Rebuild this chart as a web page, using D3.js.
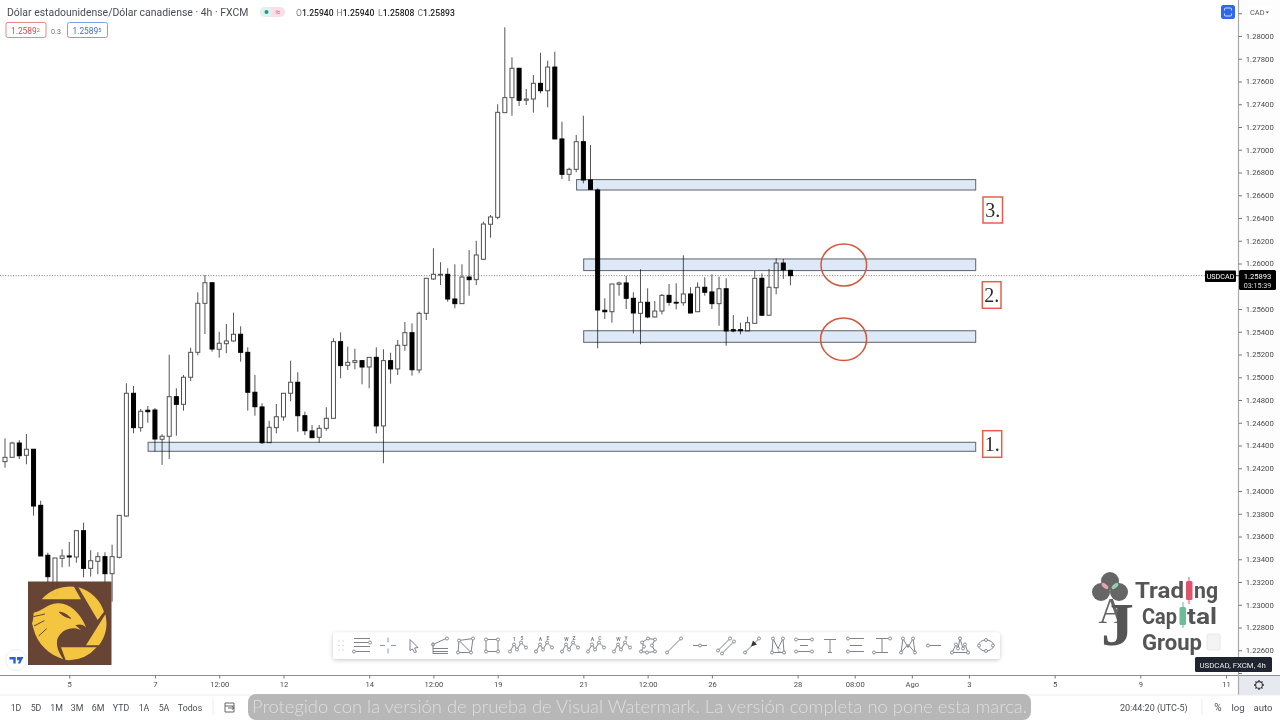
<!DOCTYPE html>
<html><head><meta charset="utf-8">
<script src="https://cdn.jsdelivr.net/npm/d3@7/dist/d3.min.js"></script>
<style>html,body{margin:0;padding:0;background:#fff;overflow:hidden}svg{display:block}text{font-family:Roboto,sans-serif}</style>
</head><body><svg id="c" width="1280" height="720" viewBox="0 0 1280 720"></svg>
<script>
const opens=[1.24258,1.24296,1.24422,1.24314,1.24367,1.23874,1.23435,1.23086,1.23408,1.23429,
1.23420,1.23651,1.23320,1.23382,1.23423,1.23273,1.23417,1.23780,1.24859,1.24557,
1.24710,1.24712,1.24455,1.24481,1.24829,1.24762,1.25000,1.25219,1.25650,1.25831,
1.25246,1.25295,1.25319,1.25378,1.25219,1.24868,1.24739,1.24425,1.24557,1.24651,
1.24859,1.24956,1.24662,1.24528,1.24472,1.24551,1.24639,1.25313,1.25105,1.25131,
1.25146,1.25090,1.25175,1.24572,1.25146,1.25073,1.25281,1.25392,1.25064,1.25562,
1.25864,1.25899,1.25905,1.25688,1.25647,1.25881,1.25858,1.26037,1.26345,1.26406,
1.27326,1.27458,1.27716,1.27435,1.27446,1.27584,1.27519,1.27727,1.27095,1.26784,
1.26828,1.27071,1.26734,1.26646,1.25589,1.25576,1.25817,1.25829,1.25694,1.25562,
1.25659,1.25530,1.25582,1.25720,1.25659,1.25655,1.25732,1.25576,1.25791,1.25750,
1.25647,1.25778,1.25418,1.25418,1.25407,1.25474,1.25870,1.25545,1.25787,1.26004,1.25940];
const highs=[1.24463,1.24433,1.24448,1.24501,1.24369,1.23915,1.23458,1.23411,1.23487,1.23552,
1.23657,1.23721,1.23479,1.23461,1.23461,1.23528,1.23786,1.24947,1.24923,1.24721,
1.24747,1.24730,1.24499,1.25198,1.24903,1.25020,1.25260,1.25747,1.25899,1.25831,
1.25400,1.25468,1.25568,1.25448,1.25263,1.25020,1.24771,1.24618,1.24765,1.24859,
1.25146,1.25044,1.24697,1.24580,1.24580,1.24736,1.25342,1.25395,1.25269,1.25251,
1.25146,1.25175,1.25263,1.25246,1.25216,1.25328,1.25486,1.25474,1.25576,1.25873,
1.26134,1.26011,1.25958,1.25993,1.25993,1.26119,1.26200,1.26368,1.26426,1.27400,
1.28076,1.27813,1.27721,1.27534,1.27657,1.27853,1.27783,1.27862,1.27247,1.26842,
1.27130,1.27299,1.27042,1.26661,1.25694,1.25820,1.25840,1.25890,1.25747,1.25949,
1.25782,1.25670,1.25732,1.25820,1.25826,1.26072,1.25791,1.25835,1.25879,1.25905,
1.25884,1.25870,1.25547,1.25480,1.25532,1.25934,1.25914,1.25952,1.26046,1.26040,1.25940];
const lows=[1.24205,1.24296,1.24281,1.24235,1.23783,1.23429,1.23191,1.23086,1.23329,1.23335,
1.23370,1.23241,1.23247,1.23268,1.23191,1.23027,1.23408,1.23774,1.24507,1.24521,
1.24600,1.24346,1.24229,1.24281,1.24486,1.24706,1.24967,1.25193,1.25380,1.25225,
1.25172,1.25211,1.25313,1.25137,1.24706,1.24662,1.24413,1.24425,1.24507,1.24618,
1.24789,1.24521,1.24492,1.24463,1.24425,1.24530,1.24639,1.24991,1.25064,1.25070,
1.24938,1.24903,1.24507,1.24244,1.24943,1.25020,1.25233,1.25014,1.25035,1.25503,
1.25855,1.25811,1.25664,1.25606,1.25647,1.25717,1.25811,1.26031,1.26227,1.26389,
1.27326,1.27299,1.27385,1.27393,1.27326,1.27496,1.27373,1.27095,1.26743,1.26725,
1.26802,1.26705,1.26646,1.25255,1.25512,1.25480,1.25717,1.25600,1.25386,1.25290,
1.25518,1.25524,1.25553,1.25629,1.25597,1.25629,1.25562,1.25576,1.25717,1.25600,
1.25453,1.25277,1.25395,1.25378,1.25407,1.25474,1.25541,1.25541,1.25729,1.25864,1.25808];
const closes=[1.24296,1.24422,1.24310,1.24367,1.23868,1.23429,1.23247,1.23411,1.23429,1.23420,
1.23651,1.23320,1.23387,1.23423,1.23273,1.23423,1.23786,1.24859,1.24557,1.24701,
1.24697,1.24457,1.24481,1.24829,1.24762,1.25000,1.25219,1.25650,1.25831,1.25248,
1.25299,1.25319,1.25378,1.25219,1.24868,1.24741,1.24425,1.24560,1.24653,1.24859,
1.24956,1.24662,1.24530,1.24469,1.24551,1.24639,1.25313,1.25102,1.25131,1.25146,
1.25090,1.25175,1.24572,1.25146,1.25073,1.25281,1.25392,1.25066,1.25562,1.25870,
1.25905,1.25905,1.25688,1.25647,1.25881,1.25858,1.26075,1.26347,1.26409,1.27329,
1.27458,1.27716,1.27435,1.27446,1.27584,1.27519,1.27727,1.27095,1.26784,1.26828,
1.27071,1.26734,1.26652,1.25591,1.25576,1.25820,1.25829,1.25694,1.25565,1.25659,
1.25530,1.25582,1.25720,1.25659,1.25655,1.25732,1.25565,1.25791,1.25747,1.25647,
1.25778,1.25407,1.25407,1.25409,1.25480,1.25870,1.25545,1.25791,1.26004,1.25943,1.25893];
const priceTicks=[1.226,1.228,1.23,1.232,1.234,1.236,1.238,1.24,1.242,1.244,1.246,1.248,1.25,1.252,1.254,1.256,1.26,1.262,1.264,1.266,1.268,1.27,1.272,1.274,1.276,1.278,1.28];
const hiddenLabelTicks=[1.224,1.258,1.282];
const timeTickBars=[9,21,30,39,51,60,69,81,90,99,111,119,127,135,147,159,171];
const timeTickLabels=["5","7","12:00","12","14","12:00","19","21","12:00","26","28","08:00","Ago","3","5","9","11"];
const zoneStarts=[20,81,81,80];
const zoneEnds=[135.9,135.9,135.9,135.9];
const zoneTops=[1.24428,1.25409,1.2604,1.26738];
const zoneBottoms=[1.24349,1.25307,1.25938,1.26646];
const lastPrice=1.25893;
const rangeButtons=["1D","5D","1M","3M","6M","YTD","1A","5A","Todos"];
const rangeButtonX=[16,36,56.5,77,98,121,144,164,190];

const svg=d3.select("#c");
const x=d3.scaleLinear().domain([0,171]).range([5,1226]);
const y=d3.scaleLinear().domain([1.226,1.28]).range([650.25,36]);
function T(g,px,py,s,size,fill,anchor,extra){
  const t=g.append("text").attr("x",px).attr("y",py).attr("font-size",size).attr("fill",fill).attr("text-anchor",anchor||"start").text(s);
  if(extra) for(const k in extra) t.attr(k,extra[k]);
  return t;
}
svg.append("defs").html('<clipPath id="pl"><rect x="0" y="0" width="1238" height="675"/></clipPath><filter id="sh" x="-5%" y="-30%" width="110%" height="170%"><feDropShadow dx="0" dy="1" stdDeviation="2" flood-color="#000" flood-opacity=".22"/></filter>');

/* candles */
const candles=opens.map((o,i)=>({i,o,h:highs[i],l:lows[i],c:closes[i]}));
const plot=svg.append("g").attr("clip-path","url(#pl)");
plot.append("line").attr("x1",0).attr("x2",1205).attr("y1",y(lastPrice)).attr("y2",y(lastPrice)).attr("stroke","#777").attr("stroke-dasharray","1 1.6");
const cg=plot.selectAll("g.k").data(candles).join("g").attr("class","k");
cg.append("line").attr("x1",d=>x(d.i)).attr("x2",d=>x(d.i)).attr("y1",d=>y(d.h)).attr("y2",d=>y(d.l)).attr("stroke","#555").attr("stroke-width",1);
cg.append("rect").attr("x",d=>x(d.i)-2).attr("width",4)
 .attr("y",d=>y(Math.max(d.o,d.c))).attr("height",d=>Math.max(0.8,Math.abs(y(d.o)-y(d.c))))
 .attr("fill",d=>d.c>=d.o?"#fff":"#000").attr("stroke",d=>d.c>=d.o?"#505050":"#000").attr("stroke-width",1);

/* support / resistance zones */
const zg=svg.append("g");
zg.selectAll("rect").data(zoneStarts.map((s,i)=>({s,e:zoneEnds[i],t:zoneTops[i],b:zoneBottoms[i]}))).join("rect")
 .attr("x",d=>x(d.s)+.3).attr("width",d=>x(d.e)-x(d.s)).attr("y",d=>y(d.t)).attr("height",d=>y(d.b)-y(d.t))
 .attr("fill","#dde9f6").attr("stroke","#6a7078").attr("stroke-width",1.1).style("mix-blend-mode","multiply");
/* circled touches */
[[843.8,265,22.8,21],[843.6,339.2,23,21.3]].forEach(e=>svg.append("ellipse").attr("cx",e[0]).attr("cy",e[1]).attr("rx",e[2]).attr("ry",e[3]).attr("fill","none").attr("stroke","#d4563c").attr("stroke-width",1.5));
/* numbered boxes */
[[983,197,19.5,26,"3."],[982.3,281.7,18.7,26.6,"2."],[982.7,430.7,19,26.6,"1."]].forEach(b=>{
 svg.append("rect").attr("x",b[0]).attr("y",b[1]).attr("width",b[2]).attr("height",b[3]).attr("fill","#fff").attr("stroke","#e4604a").attr("stroke-width",1.5);
 T(svg,b[0]+b[2]/2,b[1]+b[3]/2+7,b[4],20,"#2b2b2b","middle").style("font-family","Liberation Serif");
});

/* emblem */
const lg=svg.append("g").attr("opacity",.95);
lg.append("rect").attr("x",28).attr("y",581.5).attr("width",83.5).attr("height",83.5).attr("fill","#5f3a29");
const em=lg.append("g").attr("transform","translate(0,570) scale(.3333)").attr("fill","#f3c237");
["M125,88 L243,88 L222,50 A111,111 0 0 0 125,88 Z",
 "M235,52 A111,111 0 0 1 312,125 L293,150 Z",
 "M316,133 A111,111 0 0 1 297,226 L258,226 Z",
 "M183,232 L290,232 A111,111 0 0 1 197,270 Z",
 "M101,128 C130,122 140,103 172,100 C205,97 240,125 258,172 C245,160 236,163 226,166 L243,180 C215,168 186,178 173,205 C166,225 176,248 190,268 C150,255 112,225 100,175 L96,160 C100,150 100,140 101,128 Z"
].forEach(d=>em.append("path").attr("d",d));
em.append("path").attr("d","M178,126 C192,128 205,136 212,145 C198,142 186,136 178,126 Z M100,140 L135,132 M102,168 L133,152 M116,198 L140,176").attr("fill","#5f3a29").attr("stroke","#5f3a29").attr("stroke-width",3);

/* TV mark */
svg.append("circle").attr("cx",16).attr("cy",660).attr("r",10.5).attr("fill","#fff").attr("stroke","#eceef2");
svg.append("path").attr("d","M9.5,657 h6.2 v6.6 h-2.4 v-4.2 h-3.8 Z M17,657 h6.4 l-3.2,6.6 h-2.4 l1.6,-3.4 h-2.4 Z").attr("fill","#2962c8");

/* brand watermark */
const br=svg.append("g");
[[1110,581],[1101,592],[1119,592]].forEach(c=>br.append("circle").attr("cx",c[0]).attr("cy",c[1]).attr("r",9).attr("fill","#666"));
br.append("ellipse").attr("cx",1105).attr("cy",586).attr("rx",4).attr("ry",2).attr("transform","rotate(40 1105 586)").attr("fill","#e8a4ad");
br.append("ellipse").attr("cx",1115).attr("cy",586).attr("rx",4).attr("ry",2).attr("transform","rotate(-40 1115 586)").attr("fill","#8fd0ae");
T(br,1098.5,623,"A",36,"#666").style("font-family","Liberation Serif");
T(br,1101,645,"J",62,"#555","start",{"font-weight":700,textLength:33,lengthAdjust:"spacingAndGlyphs"}).style("font-family","Liberation Serif");
function brand(s,px,py,lw,size){T(br,px,py,s,size,"#555","start",{"font-weight":700,textLength:lw,lengthAdjust:"spacingAndGlyphs"});}
brand("Trad",1135,598,49,22);brand("ng",1194,598,24,22);
brand("Cap",1142,624,35,22);brand("tal",1187,624,30,22);
brand("Group",1142,650,60,22);
br.append("line").attr("x1",1189).attr("x2",1189).attr("y1",577).attr("y2",604).attr("stroke","#e0536c");
br.append("rect").attr("x",1186).attr("y",581).attr("width",6.5).attr("height",19).attr("rx",1.5).attr("fill","#e0536c");
br.append("line").attr("x1",1183).attr("x2",1183).attr("y1",602).attr("y2",628).attr("stroke","#69bd98");
br.append("rect").attr("x",1179.5).attr("y",607).attr("width",6.5).attr("height",18).attr("rx",1.5).attr("fill","#69bd98");
br.append("rect").attr("x",1207).attr("y",634).attr("width",13).attr("height",16).attr("rx",2).attr("fill","#f4f4f4").attr("stroke","#e8e8e8");

/* drawing toolbar */
const tb=svg.append("g");
tb.append("rect").attr("x",333).attr("y",632.5).attr("width",667).attr("height",26.5).attr("rx",3.5).attr("fill","#fff").attr("filter","url(#sh)");
const C="#80838e";
function A(g,a){g.append("circle").attr("cx",a[0]).attr("cy",a[1]).attr("r",1.5).attr("fill","#fff").attr("stroke",C).attr("stroke-width",.9);}
function P(g,pts,extra){g.append("polyline").attr("points",pts.map(p=>p.join(",")).join(" ")).attr("fill","none").attr("stroke",C).attr("stroke-width",1);if(extra)extra.forEach(a=>A(g,a));}
const zig=[[-8,6],[-4,-1],[-1,4],[3,-3],[8,2]];
const icons=[
 g=>{P(g,[[-8,-7],[8,-7]]);P(g,[[-8,-3],[6,-3]],[[8,-3]]);P(g,[[-8,1],[8,1]]);P(g,[[-6,6],[8,6]],[[-8,6]]);},
 g=>{[[[0,-8],[0,-3]],[[0,3],[0,8]],[[-8,0],[-3,0]],[[3,0],[8,0]]].forEach(s=>g.append("line").attr("x1",s[0][0]).attr("y1",s[0][1]).attr("x2",s[1][0]).attr("y2",s[1][1]).attr("stroke","#7d9ad6"));},
 g=>{g.append("path").attr("d","M-4,-6 L4,2 L0.5,2.5 L2.5,6.5 L0.5,7 L-1.5,3.5 L-4,5 Z").attr("fill","none").attr("stroke",C);},
 g=>{P(g,[[-7,-1],[6,-7]],[[-7,-1],[7,-7]]);P(g,[[-7,3],[8,3]]);P(g,[[-7,6],[8,6]]);P(g,[[-7,-3],[-7,8],[8,8]]);},
 g=>{P(g,[[-7,-5],[7,-7],[5,7],[-8,7],[-7,-5],[5,7]],[[-7,-5],[7,-7],[5,7],[-8,7]]);},
 g=>{P(g,[[-6,-6],[6,-6],[6,6],[-6,6],[-6,-6]],[[-6,-6],[6,-6],[6,6],[-6,6]]);},
 ...[["1","5"],["A","E"],["W","Z"],["A","C"],["W","Y"]].map(l=>g=>{P(g,zig,zig);T(g,-3.5,-5,l[0],5,C,"middle",{"font-weight":700});T(g,4,-5.5,l[1],5,C,"middle",{"font-weight":700});}),
 g=>{P(g,[[-6,-3],[0,-7],[7,-6],[4,0],[7,6],[-1,7],[-7,6],[-4,1],[-6,-3]],[[-6,-3],[0,-7],[7,-6],[4,0],[7,6],[-1,7],[-7,6],[-4,1]]);},
 g=>{P(g,[[-7,7],[7,-7]],[[-7,7],[7,-7]]);},
 g=>{P(g,[[-7,0],[7,0]],[[0,0]]);},
 g=>{P(g,[[-8,5],[3,-6]],[[-8,5],[4,-7]]);P(g,[[-3,7],[8,-4]],[[-4,8],[8,-4]]);},
 g=>{P(g,[[-7,7],[7,-7]],[[-7,7],[7,-7]]);g.append("path").attr("d","M1,-5 L5,-1 L-1,1 Z").attr("fill","#333");},
 g=>{P(g,[[-5,-7],[0,3],[5,-7],[6,7],[-6,7],[-5,-7]],[[-5,-7],[5,-7],[6,7],[-6,7]]);T(g,1,6,"C",5,C,"middle");},
 g=>{P(g,[[-6,-6],[8,-6]],[[-8,-6],[8,-6]]);P(g,[[-4,0],[4,0]]);P(g,[[-8,6],[6,6]],[[-8,6],[8,6]]);},
 g=>{g.append("path").attr("d","M-6,-6 H6 M0,-6 V7 M-2,7 H2").attr("fill","none").attr("stroke",C);},
 g=>{P(g,[[-6,-7],[8,-7]],[[-8,-7]]);P(g,[[-6,6],[8,6]],[[-8,6]]);P(g,[[-6,0],[6,0]]);},
 g=>{P(g,[[-6,-7],[6,-7]],[[8,-7]]);P(g,[[0,-7],[0,7]]);P(g,[[-6,7],[6,7]],[[-8,7]]);},
 g=>{P(g,[[-5,-7],[0,2],[5,-7],[7,7],[0,-1],[-7,7],[-5,-7]],[[-5,-7],[5,-7],[7,7],[-7,7]]);},
 g=>{P(g,[[-4,0],[7,0]],[[-6,0]]);},
 g=>{P(g,[[-8,7],[-4,-1],[-2,3],[0,-7],[3,3],[5,-1],[8,7],[-8,7]],[[-8,7],[-4,-1],[0,-7],[5,-1],[8,7],[-2,3],[3,3]]);},
 g=>{g.append("ellipse").attr("rx",7.5).attr("ry",5.5).attr("fill","none").attr("stroke",C);[[-7,0],[7,0],[0,-5.5],[0,5.5]].forEach(a=>A(g,a));}
];
icons.forEach((f,i)=>{const g=tb.append("g").attr("transform",`translate(${362+i*26},645.5)`);f(g);});
[[339,641],[343,641],[339,645.5],[343,645.5],[339,650],[343,650]].forEach(a=>tb.append("circle").attr("cx",a[0]).attr("cy",a[1]).attr("r",.7).attr("fill","#c9ccd3"));

/* axis frames */
svg.append("rect").attr("x",1239).attr("y",0).attr("width",41).attr("height",675).attr("fill","#fdfdfe");
svg.append("rect").attr("x",1239).attr("y",675).attr("width",41).attr("height",20).attr("fill","#e6e9ef");
svg.append("line").attr("x1",0).attr("x2",1280).attr("y1",675.5).attr("y2",675.5).attr("stroke","#8f8f8f").attr("stroke-width",1);
svg.append("line").attr("x1",1238.5).attr("x2",1238.5).attr("y1",0).attr("y2",695).attr("stroke","#a9a9a9").attr("stroke-width",1.2);
svg.append("line").attr("x1",0).attr("x2",1280).attr("y1",695).attr("y2",695).attr("stroke","#ececec");

/* axes */
const ya=svg.append("g").attr("transform","translate(1238.5,0)").call(d3.axisRight(y).tickValues(priceTicks).tickFormat(d3.format(".5f")).tickSize(3.5).tickPadding(3.8));
ya.select(".domain").remove();
ya.selectAll("line").attr("stroke","#777");
ya.selectAll("text").attr("font-size",7.7).attr("fill","#4a4a4a").style("font-family","Roboto");
const ya2=svg.append("g").attr("transform","translate(1238.5,0)").call(d3.axisRight(y).tickValues(hiddenLabelTicks).tickFormat("").tickSize(3.5));
ya2.select(".domain").remove();
ya2.selectAll("line").attr("stroke","#777");
const xa=svg.append("g").attr("transform","translate(0,675.5)").call(d3.axisBottom(x).tickValues(timeTickBars).tickFormat((d,i)=>timeTickLabels[i]).tickSize(3).tickPadding(3));
xa.select(".domain").remove();
xa.selectAll("line").attr("stroke","#777");
xa.selectAll("text").attr("font-size",7.6).attr("fill","#4a4a4a").style("font-family","Roboto");

/* last price flags */
svg.append("rect").attr("x",1205).attr("y",270.5).attr("width",31).attr("height",11.5).attr("rx",1).attr("fill","#000");
T(svg,1220.5,279.2,"USDCAD",7.2,"#fff","middle");
svg.append("line").attr("x1",1236).attr("x2",1242).attr("y1",y(lastPrice)).attr("y2",y(lastPrice)).attr("stroke","#444");
svg.append("rect").attr("x",1239).attr("y",270).attr("width",37).attr("height",20).attr("rx",1.5).attr("fill","#000");
T(svg,1257.5,278.6,"1.25893",7.6,"#fff","middle");
T(svg,1257.5,287.6,"03:15:39",7.2,"#ddd","middle");

/* header */
const hd=svg.append("g");
T(hd,7,15.5,"Dólar estadounidense/Dólar canadiense · 4h · FXCM",10.45,"#4a4d57");
hd.append("rect").attr("x",260).attr("y",7).attr("width",25).attr("height",10).attr("rx",5).attr("fill","#fbdfe8");
hd.append("rect").attr("x",260).attr("y",7).attr("width",12).attr("height",10).attr("rx",5).attr("fill","#dff2ef");
hd.append("circle").attr("cx",266.5).attr("cy",12).attr("r",2).attr("fill","#1f9a8a");
T(hd,278,15,"≈",9,"#e0608a","middle");
[[296,"O","1.25940"],[336.5,"H","1.25940"],[378,"L","1.25808"],[417.5,"C","1.25893"]].forEach(v=>{
 const t=T(hd,v[0],15.5,"",8.6,"#222");
 t.append("tspan").attr("fill","#7a7d88").text(v[1]);
 t.append("tspan").attr("font-weight",500).text(v[2]);
});
hd.append("rect").attr("x",6).attr("y",22.5).attr("width",40).attr("height",15).attr("rx",2).attr("fill","#fff").attr("stroke","#e08a8a");
T(hd,11,33.5,"1.2589",8.4,"#d84a4a").append("tspan").attr("font-size",5.5).attr("dy",-2).text("2");
T(hd,51,33.5,"0.3",7.2,"#777");
hd.append("rect").attr("x",67.5).attr("y",22.5).attr("width",40).attr("height",15).attr("rx",2).attr("fill","#fff").attr("stroke","#7fa2e0");
T(hd,72.5,33.5,"1.2589",8.4,"#3f6fd0").append("tspan").attr("font-size",5.5).attr("dy",-2).text("5");

/* top right controls */
svg.append("rect").attr("x",1221).attr("y",5).attr("width",14).attr("height",14).attr("rx",2.5).attr("fill","#2f66ee");
svg.append("path").attr("d","M1224.5,10.5 v-1.5 q0,-1 1,-1 h5 q1,0 1,1 v1.5 M1224.5,13.5 v1.5 q0,1 1,1 h5 q1,0 1,-1 v-1.5").attr("fill","none").attr("stroke","#cfe0ff");
svg.append("rect").attr("x",1248).attr("y",6).attr("width",23).attr("height",12).attr("rx",1.5).attr("fill","#fff");
T(svg,1250,15,"CAD",7.4,"#555");
svg.append("path").attr("d","M1265.5,11.5 h3.6 l-1.8,2 Z").attr("fill","#666");

/* bottom bar */
const bb=svg.append("g");
rangeButtons.forEach((s,i)=>T(bb,rangeButtonX[i],710.5,s,8.8,"#4a4d57","middle"));
bb.append("line").attr("x1",213).attr("x2",213).attr("y1",699).attr("y2",715).attr("stroke","#ececec");
bb.append("path").attr("d","M225,703 h9 v9 h-9 Z M225,706 h9 M228,708 h6 l-2,-1.5 M234,708 l-2,1.5").attr("fill","none").attr("stroke","#666");
bb.append("rect").attr("x",248).attr("y",694).attr("width",783).attr("height",26).attr("rx",8).attr("fill","#b7b7b7");
T(bb,252,713,"Protegido con la versión de prueba de Visual Watermark. La versión completa no pone esta marca.",17.5,"#dedede","start",{textLength:775,lengthAdjust:"spacingAndGlyphs","font-weight":300}).style("font-family","Lato");
T(bb,1120,710.5,"20:44:20 (UTC-5)",9,"#4a4d57");
bb.append("line").attr("x1",1202).attr("x2",1202).attr("y1",699).attr("y2",715).attr("stroke","#ececec");
T(bb,1218,710.5,"%",10,"#4a4d57","middle");
T(bb,1238,710.5,"log",9.5,"#4a4d57","middle");
T(bb,1263,710.5,"auto",9.5,"#4a4d57","middle");

/* tooltip + settings */
svg.append("rect").attr("x",1195).attr("y",657).attr("width",77).attr("height",15).attr("rx",1.5).attr("fill","#1f2430");
T(svg,1199.5,667.8,"USDCAD, FXCM, 4h",7.8,"#e8e8e8");
const gear=svg.append("g").attr("transform","translate(1259,685)");
gear.append("circle").attr("r",3.4).attr("fill","none").attr("stroke","#333").attr("stroke-width",1.1);
d3.range(8).forEach(i=>gear.append("line").attr("x1",0).attr("x2",0).attr("y1",-3.4).attr("y2",-5).attr("stroke","#333").attr("stroke-width",1.3).attr("transform",`rotate(${i*45})`));
</script></body></html>
